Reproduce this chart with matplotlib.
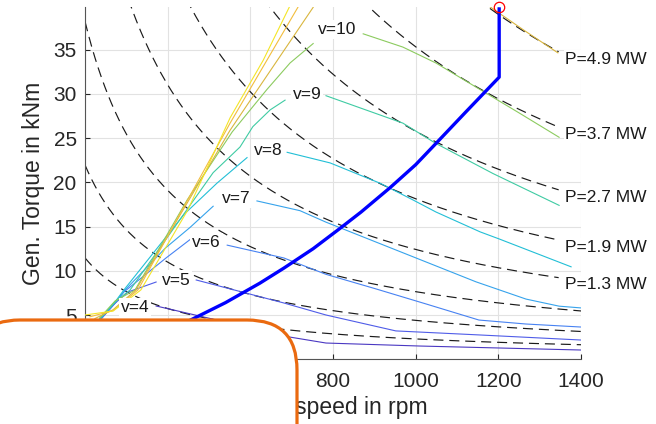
import numpy as np
import matplotlib
matplotlib.use("Agg")
import matplotlib.pyplot as plt
from matplotlib.patches import FancyBboxPatch
from matplotlib.transforms import IdentityTransform

plt.rcParams['font.family'] = ['Liberation Sans', 'DejaVu Sans']

# iso-power lines (MW), only the upper five carry a label
power_mw = [4.9, 3.7, 2.7, 1.9, 1.3, 0.8, 0.46, 0.24]
power_labelled = [True, True, True, True, True, False, False, False]

# wind speed lines: rising part (left of the label) and falling part (right of it)
# speed in rpm, torque in kNm
v4_rise_n = [236, 275]
v4_rise_t = [4.4, 6.47]
v4_fall_n = [372, 519, 665, 783, 1011, 1400]
v4_fall_t = [6.02, 4.43, 2.74, 1.83, 1.49, 1.04]

v5_rise_n = [236, 273, 304, 372]
v5_rise_t = [4.45, 6.35, 7.6, 8.73]
v5_fall_n = [469, 681, 783, 952, 1156, 1400]
v5_fall_t = [8.96, 6.36, 5.0, 3.2, 2.74, 2.17]

v6_rise_n = [236, 273, 294, 396, 456]
v6_rise_t = [4.45, 6.35, 7.6, 11.45, 13.6]
v6_fall_n = [544, 681, 783, 904, 1025, 1153, 1267, 1400]
v6_fall_t = [12.9, 11.45, 9.6, 7.95, 6.25, 4.43, 3.98, 3.64]

v7_rise_n = [236, 273, 297, 394, 454, 510]
v7_rise_t = [4.5, 6.4, 7.83, 12.55, 14.9, 17.3]
v7_fall_n = [616, 720, 783, 904, 1025, 1146, 1267, 1347, 1400]
v7_fall_t = [17.9, 16.8, 15.5, 13.25, 11.0, 8.75, 6.8, 6.0, 5.8]

v8_rise_n = [236, 273, 294, 440, 519, 592]
v8_rise_t = [4.6, 6.5, 7.83, 16.4, 19.9, 22.8]
v8_fall_n = [689, 793, 914, 994, 1049, 1156, 1202, 1376]
v8_fall_t = [23.4, 22.2, 19.9, 18.0, 16.65, 14.4, 13.6, 10.45]

v9_rise_n = [236, 273, 309, 510, 575, 606, 648, 684]
v9_rise_t = [4.6, 6.5, 7.83, 21.1, 24.0, 26.3, 28.2, 29.3]
v9_fall_n = [783, 969, 1049, 1187, 1347]
v9_fall_t = [29.8, 26.7, 24.4, 21.0, 17.4]

v10_rise_n = [236, 273, 321, 447, 556, 640, 696, 752]
v10_rise_t = [4.7, 6.6, 7.83, 18.0, 25.7, 30.5, 33.5, 35.7]
v10_fall_n = [873, 969, 1049, 1170, 1250, 1347]
v10_fall_t = [36.8, 35.3, 33.5, 30.1, 27.86, 25.1]

v11_rise_n = [224, 268, 323, 551, 752]
v11_rise_t = [4.6, 5.6, 7.83, 25.9, 39.8]
v11_fall_n = [1180, 1262, 1344]
v11_fall_t = [39.85, 37.2, 34.65]

v12_rise_n = [212, 268, 328, 551, 715]
v12_rise_t = [4.8, 5.5, 7.83, 26.7, 39.8]

v13_rise_n = [200, 268, 335, 449, 551, 631, 694]
v13_rise_t = [5.0, 5.45, 7.83, 16.9, 27.3, 33.8, 39.8]

# operating trajectory (thick blue line)
op_n = [400, 454, 540, 623, 681, 752, 817, 868, 938, 1000, 1049, 1120, 1202, 1202]
op_t = [3.4, 4.4, 6.4, 8.6, 10.3, 12.5, 14.8, 16.65, 19.4, 22.0, 24.4, 27.9, 31.9, 39.8]
op_point_n = 1202
op_point_t = 39.8

v_colors = {4: '#4a38c2', 5: '#4f5ce8', 6: '#4782f2', 7: '#36a3ec', 8: '#22bfd6',
            9: '#3fcba3', 10: '#8ccb5f', 11: '#d9b63e', 12: '#f2bd3c', 13: '#f4e527'}

rise = {4: (v4_rise_n, v4_rise_t), 5: (v5_rise_n, v5_rise_t), 6: (v6_rise_n, v6_rise_t),
        7: (v7_rise_n, v7_rise_t), 8: (v8_rise_n, v8_rise_t), 9: (v9_rise_n, v9_rise_t),
        10: (v10_rise_n, v10_rise_t), 11: (v11_rise_n, v11_rise_t),
        12: (v12_rise_n, v12_rise_t), 13: (v13_rise_n, v13_rise_t)}
fall = {4: (v4_fall_n, v4_fall_t), 5: (v5_fall_n, v5_fall_t), 6: (v6_fall_n, v6_fall_t),
        7: (v7_fall_n, v7_fall_t), 8: (v8_fall_n, v8_fall_t), 9: (v9_fall_n, v9_fall_t),
        10: (v10_fall_n, v10_fall_t), 11: (v11_fall_n, v11_fall_t)}

# where the v labels sit (rpm, kNm)
v_label_at = {4: (321, 5.8), 5: (420, 8.95), 6: (493, 13.2), 7: (565, 18.2),
              8: (643, 23.55), 9: (737, 29.9), 10: (810, 37.25)}

fig = plt.figure(figsize=(6.56, 4.24), dpi=100)
ax = fig.add_axes([0.1296, 0.1528, 0.7561, 0.8300])
ax.set_xlim(200, 1400)
ax.set_ylim(0, 39.8)
ax.set_xticks(range(200, 1401, 200))
ax.set_yticks(range(0, 36, 5))
ax.grid(True, color='#e2e2e2', lw=0.8)
ax.set_axisbelow(True)
for s in ['top', 'right']:
    ax.spines[s].set_visible(False)
for s in ['left', 'bottom']:
    ax.spines[s].set_color('#555555')
    ax.spines[s].set_linewidth(0.8)
ax.tick_params(direction='in', length=3.5, width=0.8, colors='#262626', labelsize=15)
ax.tick_params(axis='x', pad=9)
ax.tick_params(axis='y', pad=6)

# dashed lines of constant power
n = np.linspace(200, 1400, 600)
for P, lab in zip(power_mw, power_labelled):
    n_end = 1347 if lab else 1400
    nn = n[n <= n_end]
    tt = P * 1e3 / (nn * np.pi / 30)
    ax.plot(nn, tt, color='#1a1a1a', lw=0.85, dashes=(8.5, 5), zorder=2)
    if lab:
        t_end = P * 1e3 / (n_end * np.pi / 30)
        ax.text(1361, t_end - 0.8, f'P={P} MW', ha='left', va='center', fontsize=12.5,
                color='#1a1a1a', clip_on=False, zorder=6,
                bbox=dict(fc='white', ec='none', pad=1.0))

# wind speed lines
for v, (rn, rt) in rise.items():
    ax.plot(rn, rt, color=v_colors[v], lw=0.8, zorder=3)
for v, (fn, ft) in fall.items():
    ax.plot(fn, ft, color=v_colors[v], lw=0.8, zorder=3)
for v, (lx, ly) in v_label_at.items():
    ax.text(lx, ly, f'v={v}', ha='center', va='center', fontsize=12.5, color='#1a1a1a',
            zorder=5, bbox=dict(fc='white', ec='none', pad=1.5))

# operating curve
ax.plot(op_n, op_t, color='#0000ff', lw=2.4, zorder=4, solid_capstyle='butt')
ax.plot([op_point_n], [op_point_t], 'o', mfc='none', mec='red', ms=7.5, mew=0.9,
        clip_on=False, zorder=7)

ax.set_xlabel('Gen. speed in rpm', fontsize=16.5, color='#262626', labelpad=4)
ax.set_ylabel('Gen. Torque in kNm', fontsize=16.5, color='#262626', labelpad=6)

# white box with orange rim over the lower left corner
box = FancyBboxPatch((-30, -60), 327, 164, boxstyle='round,pad=0,rounding_size=50',
                     transform=IdentityTransform(), fc='white', ec='#ea6a10', lw=2.3,
                     zorder=10)
fig.add_artist(box)

fig.savefig('out.png', dpi=100)
